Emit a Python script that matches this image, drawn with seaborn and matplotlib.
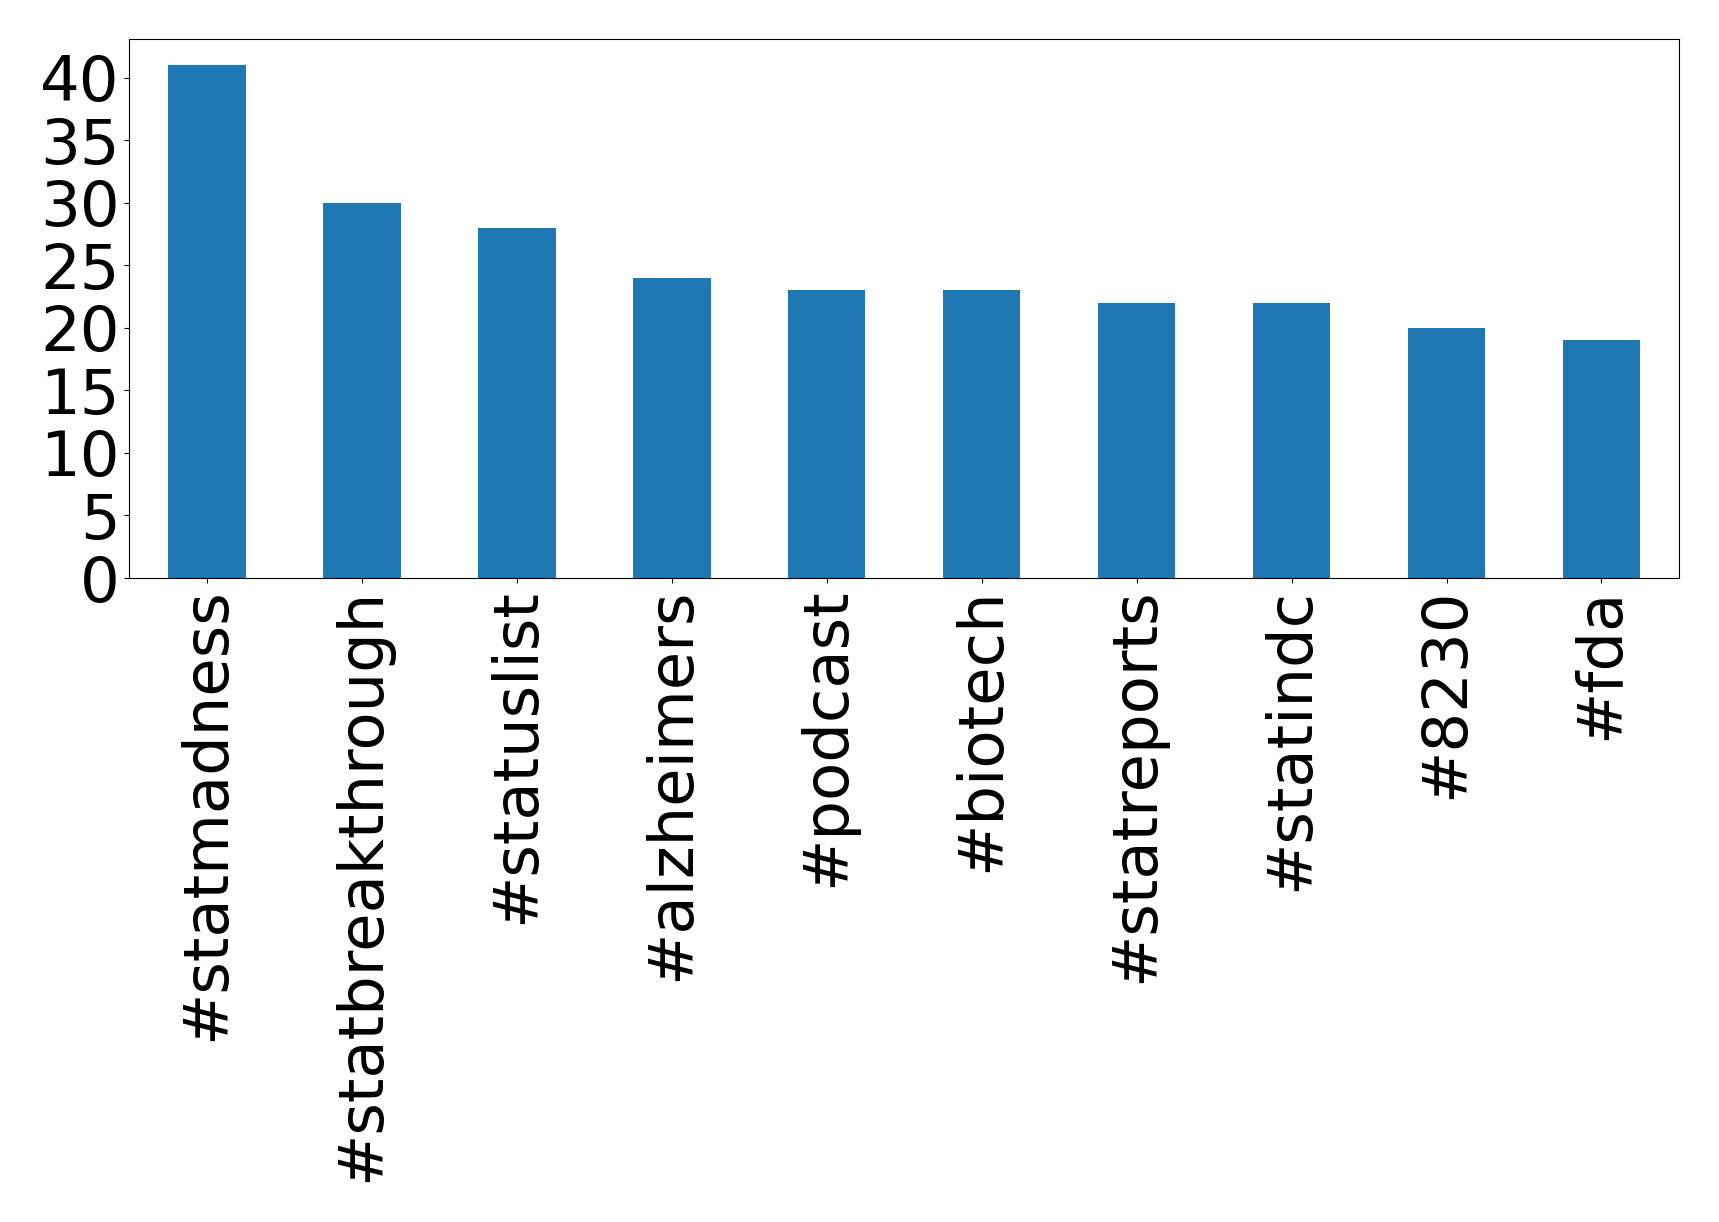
import pandas as pd
import matplotlib
matplotlib.use('Agg')
import matplotlib.pyplot as plt
from matplotlib.ticker import MultipleLocator
import seaborn as sns

# === dados (hashtags mais usadas) ===
hashtags = ['#statmadness', '#statbreakthrough', '#statuslist', '#alzheimers',
            '#podcast', '#biotech', '#statreports', '#statindc', '#8230', '#fda']
contagens = [41, 30, 28, 24, 23, 23, 22, 22, 20, 19]

df = pd.DataFrame({'hashtag': hashtags, 'contagem': contagens})

fig, ax = plt.subplots(figsize=(17.19, 12.22), dpi=100)
sns.barplot(x='hashtag', y='contagem', data=df, color='#1f77b4',
            saturation=1, width=0.5, linewidth=0, ax=ax)
ax.set_xlim(-0.5, len(hashtags) - 0.5)
ax.yaxis.set_major_locator(MultipleLocator(5))
ax.set_xlabel('')
ax.set_ylabel('')
ax.tick_params(axis='both', labelsize=45)
plt.xticks(rotation=90)
plt.subplots_adjust(left=0.0753, right=0.9767, top=0.9678, bottom=0.527)
plt.savefig('out.png', dpi=100)
